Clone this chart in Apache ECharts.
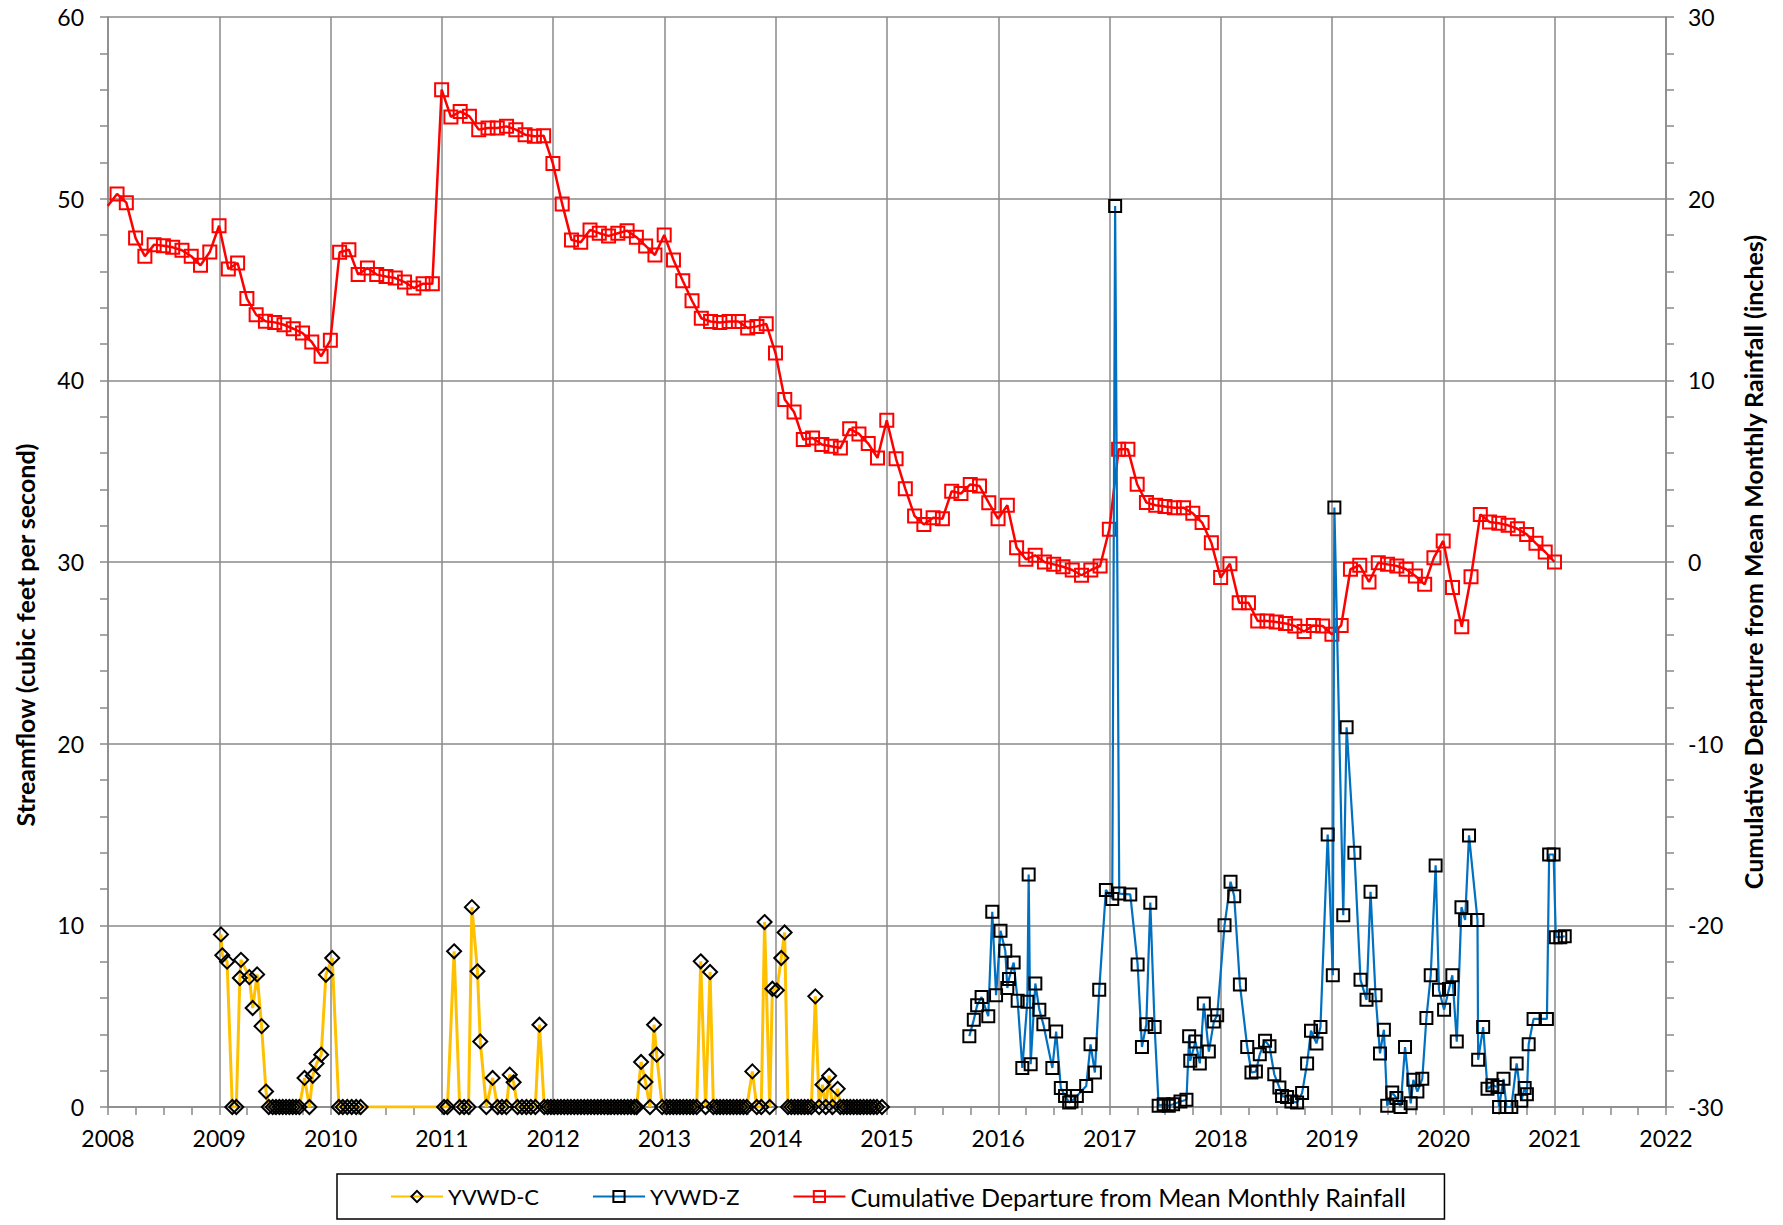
<!DOCTYPE html>
<html>
<head>
<meta charset="utf-8">
<script src="https://cdn.jsdelivr.net/npm/echarts@6/dist/echarts.min.js"></script>
<style>
html,body{margin:0;padding:0;background:#fff;}
#chart{width:1783px;height:1225px;}
</style>
</head>
<body>
<div id="chart"></div>
<script>
// ---------- tick labels ----------
const xTickYears = [2008,2009,2010,2011,2012,2013,2014,2015,2016,2017,2018,2019,2020,2021,2022];
const leftTicks = [0,10,20,30,40,50,60];
const rightTicks = [-30,-20,-10,0,10,20,30];

// ---------- series names ----------
const seriesNames = ['YVWD-C','YVWD-Z','Cumulative Departure from Mean Monthly Rainfall'];

// ---------- YVWD-C streamflow (decimal year, cfs) ----------
const yvwdC = [
 [2009.015,9.5],[2009.027,8.35],[2009.07,8.0],[2009.117,0],[2009.153,0],[2009.185,7.1],[2009.195,8.1],
 [2009.27,7.15],[2009.30,5.45],[2009.34,7.3],[2009.38,4.45],[2009.42,0.85],[2009.445,0],
 [2009.48,0],[2009.51,0],[2009.54,0],[2009.57,0],[2009.60,0],[2009.63,0],[2009.66,0],[2009.69,0],[2009.72,0],
 [2009.766,1.6],[2009.81,0],[2009.84,1.72],[2009.874,2.39],[2009.916,2.88],[2009.958,7.28],[2010.015,8.2],
 [2010.075,0],[2010.11,0],[2010.15,0],[2010.19,0],[2010.23,0],[2010.27,0],
 [2011.02,0],[2011.05,0],[2011.11,8.57],[2011.16,0],[2011.20,0],[2011.24,0],[2011.27,11.0],[2011.32,7.47],
 [2011.345,3.61],[2011.40,0],[2011.456,1.6],[2011.50,0],[2011.54,0],[2011.58,0],[2011.61,1.78],[2011.645,1.36],
 [2011.68,0],[2011.72,0],[2011.76,0],[2011.80,0],[2011.84,0],[2011.877,4.53],[2011.92,0],[2011.95,0],[2011.98,0],
 [2012.01,0],[2012.04,0],[2012.07,0],[2012.10,0],[2012.13,0],[2012.16,0],[2012.19,0],[2012.22,0],[2012.25,0],
 [2012.28,0],[2012.31,0],[2012.34,0],[2012.37,0],[2012.40,0],[2012.43,0],[2012.46,0],[2012.49,0],[2012.52,0],
 [2012.55,0],[2012.58,0],[2012.61,0],[2012.64,0],[2012.67,0],[2012.70,0],[2012.73,0],[2012.75,0],
 [2012.79,2.48],[2012.83,1.38],[2012.87,0],[2012.907,4.53],[2012.93,2.88],[2012.98,0],
 [2013.02,0],[2013.05,0],[2013.08,0],[2013.11,0],[2013.14,0],[2013.17,0],[2013.20,0],[2013.23,0],[2013.26,0],[2013.29,0],
 [2013.326,8.02],[2013.37,0],[2013.41,7.43],[2013.44,0],
 [2013.47,0],[2013.50,0],[2013.53,0],[2013.56,0],[2013.59,0],[2013.62,0],[2013.65,0],[2013.68,0],[2013.71,0],[2013.74,0],
 [2013.79,1.96],[2013.83,0],[2013.87,0],[2013.90,10.18],[2013.946,0],[2013.97,6.51],[2014.01,6.42],[2014.05,8.2],[2014.08,9.61],
 [2014.11,0],[2014.14,0],[2014.17,0],[2014.20,0],[2014.23,0],[2014.26,0],[2014.29,0],[2014.32,0],
 [2014.356,6.09],[2014.39,0],[2014.42,1.23],[2014.45,0],[2014.48,1.72],[2014.51,0],[2014.557,1.0],[2014.58,0],
 [2014.61,0],[2014.64,0],[2014.67,0],[2014.70,0],[2014.73,0],[2014.76,0],[2014.79,0],[2014.82,0],[2014.85,0],
 [2014.88,0],[2014.91,0],[2014.955,0]
];

// ---------- YVWD-Z streamflow (decimal year, cfs) ----------
const yvwdZ = [
 [2015.74,3.9],[2015.78,4.8],[2015.81,5.6],[2015.85,6.05],[2015.91,5.0],[2015.946,10.75],[2015.98,6.15],
 [2016.02,9.7],[2016.063,8.6],[2016.081,6.55],[2016.096,7.05],[2016.138,7.95],[2016.174,5.85],[2016.216,2.15],
 [2016.261,5.8],[2016.273,12.8],[2016.291,2.35],[2016.333,6.8],[2016.369,5.35],[2016.405,4.55],[2016.486,2.15],
 [2016.52,4.15],[2016.562,1.05],[2016.60,0.6],[2016.637,0.25],[2016.658,0.3],[2016.706,0.6],[2016.79,1.15],
 [2016.829,3.45],[2016.868,1.9],[2016.907,6.45],[2016.967,11.95],[2017.024,11.45],[2017.05,49.6],[2017.087,11.75],
 [2017.186,11.7],[2017.252,7.85],[2017.291,3.3],[2017.33,4.55],[2017.366,11.25],[2017.405,4.4],[2017.441,0.07],
 [2017.486,0.15],[2017.532,0.07],[2017.571,0.15],[2017.637,0.3],[2017.691,0.4],[2017.715,3.9],[2017.725,2.55],
 [2017.772,3.6],[2017.811,2.4],[2017.847,5.7],[2017.892,3.05],[2017.937,4.7],[2017.967,5.05],[2018.033,10.0],
 [2018.087,12.4],[2018.12,11.6],[2018.171,6.75],[2018.237,3.3],[2018.275,1.9],[2018.315,1.95],[2018.35,2.9],
 [2018.397,3.65],[2018.437,3.35],[2018.48,1.8],[2018.526,1.08],[2018.55,0.6],[2018.595,0.55],[2018.634,0.3],
 [2018.685,0.25],[2018.73,0.77],[2018.775,2.4],[2018.81,4.2],[2018.859,3.5],[2018.895,4.4],[2018.96,15.0],
 [2019.006,7.25],[2019.02,33.0],[2019.1,10.55],[2019.13,20.9],[2019.2,14.0],[2019.255,7.0],[2019.309,5.9],
 [2019.345,11.85],[2019.39,6.15],[2019.43,2.95],[2019.465,4.25],[2019.495,0.07],[2019.54,0.8],[2019.577,0.5],
 [2019.615,0.0],[2019.655,3.3],[2019.706,0.2],[2019.73,1.5],[2019.766,0.85],[2019.81,1.55],[2019.847,4.9],
 [2019.886,7.25],[2019.93,13.3],[2019.96,6.45],[2020.006,5.35],[2020.05,6.5],[2020.08,7.25],[2020.12,3.6],
 [2020.162,11.0],[2020.195,10.3],[2020.23,14.95],[2020.306,10.3],[2020.312,2.6],[2020.357,4.4],[2020.396,1.0],
 [2020.44,1.2],[2020.486,1.1],[2020.5,0],[2020.54,1.55],[2020.567,0],[2020.61,0],[2020.658,2.4],[2020.70,0.35],
 [2020.73,1.05],[2020.75,0.7],[2020.766,3.45],[2020.81,4.85],[2020.93,4.85],[2020.95,13.9],[2020.99,13.9],
 [2021.01,9.35],[2021.05,9.35],[2021.09,9.4]
];

// ---------- Cumulative departure from mean monthly rainfall (inches), month-end values ----------
const rainDec2007 = 19.6;
const rainYears = [2008,2009,2010,2011,2012,2013,2014,2015,2016,2017,2018,2019,2020];
const rain2008 = [20.26,19.78,17.83,16.83,17.47,17.41,17.32,17.16,16.83,16.33,17.06,18.51];
const rain2009 = [16.13,16.46,14.5,13.61,13.25,13.19,13.06,12.84,12.6,12.11,11.32,12.2];
const rain2010 = [17.05,17.19,15.82,16.18,15.82,15.72,15.63,15.41,15.08,15.32,15.32,26.0];
const rain2011 = [24.5,24.8,24.53,23.8,23.89,23.89,23.98,23.8,23.52,23.43,23.47,21.93];
const rain2012 = [19.71,17.73,17.6,18.28,18.1,17.95,18.1,18.24,17.88,17.4,16.9,18.0];
const rain2013 = [16.63,15.48,14.38,13.42,13.24,13.19,13.24,13.24,12.88,12.97,13.11,11.5];
const rain2014 = [8.94,8.26,6.74,6.83,6.47,6.37,6.28,7.33,7.05,6.52,5.73,7.8];
const rain2015 = [5.68,4.03,2.53,2.07,2.44,2.38,3.9,3.77,4.27,4.18,3.26,2.38];
const rain2016 = [3.12,0.79,0.15,0.37,0.0,-0.13,-0.26,-0.44,-0.73,-0.44,-0.22,1.8];
const rain2017 = [6.2,6.2,4.28,3.27,3.12,3.05,2.99,2.99,2.68,2.17,1.06,-0.86];
const rain2018 = [-0.1,-2.24,-2.24,-3.25,-3.25,-3.3,-3.38,-3.52,-3.83,-3.49,-3.52,-3.98];
const rain2019 = [-3.49,-0.4,-0.18,-1.1,-0.04,-0.13,-0.22,-0.4,-0.77,-1.23,0.24,1.16];
const rain2020 = [-1.41,-3.56,-0.81,2.62,2.2,2.13,2.02,1.83,1.52,1.03,0.55,0.0];

// ---------- build options ----------
const rainByYear = [rain2008,rain2009,rain2010,rain2011,rain2012,rain2013,rain2014,rain2015,rain2016,rain2017,rain2018,rain2019,rain2020];
const rainData = [[2007.997, rainDec2007]];
rainYears.forEach((yr, i) => {
  rainByYear[i].forEach((v, m) => { rainData.push([yr + (m + 1) / 12 - 0.002, v]); });
});

const FONT = 'Lato, "Open Sans", sans-serif';
const GRID = '#8a8a8a';
const TICKFS = 23;

const chart = echarts.init(document.getElementById('chart'), null, {renderer: 'svg'});
chart.setOption({
  animation: false,
  backgroundColor: '#ffffff',
  textStyle: {fontFamily: FONT, color: '#000'},
  grid: {left: 108, right: 117, top: 17, bottom: 118, containLabel: false, outerBoundsMode: 'none'},
  legend: {
    data: seriesNames,
    left: 337, top: 1174,
    orient: 'horizontal',
    padding: [10, 38, 10, 53],
    itemGap: 53,
    itemWidth: 52,
    itemHeight: 14,
    borderColor: '#000', borderWidth: 1.5, backgroundColor: '#fff',
    formatter: name => (name === seriesNames[2] ? '{big|' : '{small|') + name + '}',
    textStyle: {
      fontFamily: FONT, fontSize: 22, color: '#000',
      rich: {
        small: {fontFamily: FONT, fontSize: 22, color: '#000'},
        big: {fontFamily: FONT, fontSize: 25, color: '#000'}
      }
    }
  },
  xAxis: {
    type: 'value',
    min: xTickYears[0], max: xTickYears[xTickYears.length - 1], interval: 1,
    axisLine: {show: true, onZero: false, lineStyle: {color: GRID, width: 1.5}},
    axisTick: {show: true, length: 8, lineStyle: {color: GRID, width: 1.5}},
    minorTick: {show: true, splitNumber: 4, length: 8, lineStyle: {color: GRID, width: 1.5}},
    splitLine: {show: true, lineStyle: {color: GRID, width: 1.5}},
    axisLabel: {margin: 19, fontSize: TICKFS, color: '#000', fontFamily: FONT,
      formatter: v => xTickYears.indexOf(v) >= 0 ? String(v) : ''}
  },
  yAxis: [
    {
      type: 'value', position: 'left',
      min: leftTicks[0], max: leftTicks[leftTicks.length - 1], interval: 10,
      name: 'Streamflow (cubic feet per second)',
      nameLocation: 'middle', nameRotate: 90, nameGap: 71,
      nameTextStyle: {fontFamily: FONT, fontSize: 25, fontWeight: 'bold', color: '#000', padding: [0, 146, 0, 0]},
      axisLine: {show: true, lineStyle: {color: GRID, width: 1.5}},
      axisTick: {show: true, length: 8, lineStyle: {color: GRID, width: 1.5}},
      minorTick: {show: true, splitNumber: 5, length: 8, lineStyle: {color: GRID, width: 1.5}},
      splitLine: {show: true, lineStyle: {color: GRID, width: 1.5}},
      axisLabel: {margin: 24, fontSize: TICKFS, color: '#000', fontFamily: FONT, formatter: v => String(v)}
    },
    {
      type: 'value', position: 'right',
      min: rightTicks[0], max: rightTicks[rightTicks.length - 1], interval: 10,
      name: 'Cumulative Departure from Mean Monthly Rainfall (inches)',
      nameLocation: 'middle', nameRotate: 90, nameGap: 74,
      nameTextStyle: {fontFamily: FONT, fontSize: 25, fontWeight: 'bold', color: '#000'},
      axisLine: {show: true, lineStyle: {color: GRID, width: 1.5}},
      axisTick: {show: true, length: 8, lineStyle: {color: GRID, width: 1.5}},
      minorTick: {show: true, splitNumber: 5, length: 8, lineStyle: {color: GRID, width: 1.5}},
      splitLine: {show: false},
      axisLabel: {margin: 22, fontSize: TICKFS, color: '#000', fontFamily: FONT, formatter: v => String(v)}
    }
  ],
  series: [
    {
      name: seriesNames[0], type: 'line', xAxisIndex: 0, yAxisIndex: 0, data: yvwdC,
      z: 3, clip: true,
      symbol: 'diamond', symbolSize: 14,
      lineStyle: {color: '#FFC000', width: 3},
      itemStyle: {color: 'rgba(255,255,255,0)', borderColor: '#000', borderWidth: 2},
      emphasis: {disabled: true}
    },
    {
      name: seriesNames[1], type: 'line', xAxisIndex: 0, yAxisIndex: 0, data: yvwdZ,
      z: 5, clip: true,
      symbol: 'rect', symbolSize: 12,
      lineStyle: {color: '#0070C0', width: 2.2},
      itemStyle: {color: 'rgba(255,255,255,0)', borderColor: '#000', borderWidth: 2},
      emphasis: {disabled: true}
    },
    {
      name: seriesNames[2], type: 'line', xAxisIndex: 0, yAxisIndex: 1, data: rainData,
      z: 4, clip: true,
      symbol: 'rect', symbolSize: 13,
      lineStyle: {color: '#FF0000', width: 2.5},
      itemStyle: {color: 'rgba(255,255,255,0)', borderColor: '#FF0000', borderWidth: 2},
      emphasis: {disabled: true}
    }
  ]
});
</script>
</body>
</html>
